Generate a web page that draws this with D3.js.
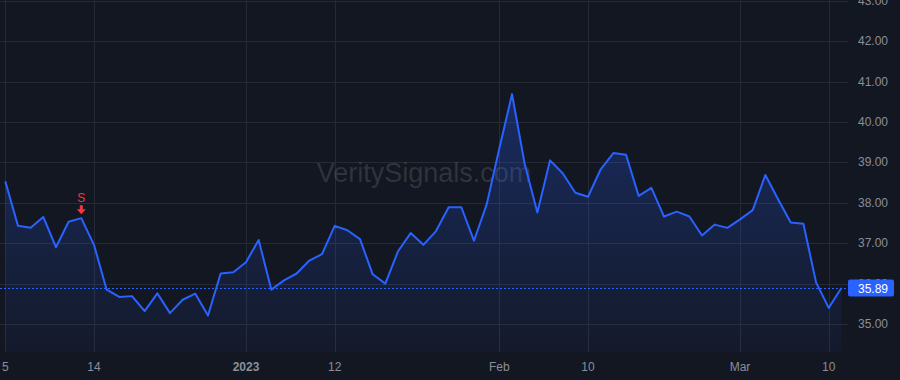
<!DOCTYPE html>
<html lang="en">
  <head>
    <meta charset="UTF-8" />
    <script src="https://d3js.org/d3.v7.min.js"></script>
    <title>VeritySignals chart</title>
    <style>
      body { margin: 0; background: #131722; }
      svg { display: block; }
    </style>
  </head>
  <body>
    <svg id="chart" width="900" height="380"></svg>
    <script>
      // trading days, Dec 5 2022 .. Mar 13 2023
      var dates = [
        '2022-12-05','2022-12-06','2022-12-07','2022-12-08','2022-12-09',
        '2022-12-12','2022-12-13','2022-12-14','2022-12-15','2022-12-16',
        '2022-12-19','2022-12-20','2022-12-21','2022-12-22','2022-12-23',
        '2022-12-27','2022-12-28','2022-12-29','2022-12-30',
        '2023-01-03','2023-01-04','2023-01-05','2023-01-06',
        '2023-01-09','2023-01-10','2023-01-11','2023-01-12','2023-01-13',
        '2023-01-17','2023-01-18','2023-01-19','2023-01-20',
        '2023-01-23','2023-01-24','2023-01-25','2023-01-26','2023-01-27',
        '2023-01-30','2023-01-31','2023-02-01','2023-02-02','2023-02-03',
        '2023-02-06','2023-02-07','2023-02-08','2023-02-09','2023-02-10',
        '2023-02-13','2023-02-14','2023-02-15','2023-02-16','2023-02-17',
        '2023-02-21','2023-02-22','2023-02-23','2023-02-24',
        '2023-02-27','2023-02-28','2023-03-01','2023-03-02','2023-03-03',
        '2023-03-06','2023-03-07','2023-03-08','2023-03-09','2023-03-10',
        '2023-03-13'
      ];

      // close prices
      var closes = [
        38.53, 37.43, 37.38, 37.65, 36.90, 37.53, 37.62, 36.96, 35.85, 35.67,
        35.69, 35.32, 35.76, 35.27, 35.60, 35.75, 35.21, 36.25, 36.28, 36.53,
        37.08, 35.85, 36.08, 36.25, 36.57, 36.73, 37.43, 37.32, 37.10, 36.23,
        36.00, 36.80, 37.25, 36.96, 37.30, 37.89, 37.89, 37.06, 37.96, 39.35,
        40.69, 38.96, 37.76, 39.05, 38.73, 38.25, 38.15, 38.83, 39.23, 39.19,
        38.17, 38.37, 37.66, 37.78, 37.66, 37.19, 37.46, 37.38, 37.59, 37.82,
        38.69, 38.09, 37.51, 37.48, 36.03, 35.40, 35.89
      ];

      // bottom axis ticks
      var tickDates = ['2022-12-05','2022-12-14','2023-01-03','2023-01-12','2023-02-01','2023-02-10','2023-03-01','2023-03-10'];
      var tickLabels = ['5', '14', '2023', '12', 'Feb', '10', 'Mar', '10'];
      var tickBold = ['2023'];

      // right axis ticks
      var priceTicks = [35, 36, 37, 38, 39, 40, 41, 42, 43];

      // signals
      var signals = [{ date: '2022-12-13', label: 'S' }];
      var lastPrice = 35.89;

      var svg = d3.select('#chart'),
        width = +svg.attr('width'),
        height = +svg.attr('height');

      var plotRight = 848,
        plotBottom = 352;

      var x = d3.scalePoint().domain(dates).range([5.3, 841.4]);
      var y = d3.scaleLinear().domain([35, 43]).range([324, 0.8]);

      var font = '"Liberation Sans", Arial, sans-serif';

      svg.append('rect').attr('width', width).attr('height', height).attr('fill', '#131722');

      // grid
      svg.append('g')
        .selectAll('line')
        .data(priceTicks)
        .enter()
        .append('line')
        .attr('x1', 0)
        .attr('x2', plotRight)
        .attr('y1', function(d) { return Math.round(y(d)) + 0.5; })
        .attr('y2', function(d) { return Math.round(y(d)) + 0.5; })
        .attr('stroke', '#262a35');

      svg.append('g')
        .selectAll('line')
        .data(tickDates)
        .enter()
        .append('line')
        .attr('x1', function(d) { return Math.round(x(d)) + 0.5; })
        .attr('x2', function(d) { return Math.round(x(d)) + 0.5; })
        .attr('y1', 0)
        .attr('y2', plotBottom)
        .attr('stroke', '#262a35');

      // watermark
      svg.append('text')
        .attr('x', 424)
        .attr('y', 182)
        .attr('text-anchor', 'middle')
        .attr('font-family', font)
        .attr('font-size', 27)
        .attr('fill', '#ffffff')
        .attr('fill-opacity', 0.13)
        .text('VeritySignals.com');

      // area gradient
      var grad = svg.append('defs').append('linearGradient')
        .attr('id', 'areaGrad')
        .attr('gradientUnits', 'userSpaceOnUse')
        .attr('x1', 0).attr('y1', y(40.69))
        .attr('x2', 0).attr('y2', plotBottom);
      grad.append('stop').attr('offset', '0%').attr('stop-color', '#2962ff').attr('stop-opacity', 0.28);
      grad.append('stop').attr('offset', '100%').attr('stop-color', '#2962ff').attr('stop-opacity', 0.04);

      var data = dates.map(function(d, i) { return { date: d, close: closes[i] }; });

      var area = d3.area()
        .x(function(d) { return x(d.date); })
        .y0(plotBottom)
        .y1(function(d) { return y(d.close); });

      var line = d3.line()
        .x(function(d) { return x(d.date); })
        .y(function(d) { return y(d.close); });

      svg.append('path').datum(data).attr('d', area).attr('fill', 'url(#areaGrad)');
      svg.append('path').datum(data)
        .attr('d', line)
        .attr('fill', 'none')
        .attr('stroke', '#2962ff')
        .attr('stroke-width', 2)
        .attr('stroke-linejoin', 'round');

      // last price line
      svg.append('line')
        .attr('x1', 0)
        .attr('x2', plotRight)
        .attr('y1', Math.round(y(lastPrice)) + 0.5)
        .attr('y2', Math.round(y(lastPrice)) + 0.5)
        .attr('stroke', '#2962ff')
        .attr('stroke-dasharray', '2,2');

      // signal markers
      var sig = svg.append('g')
        .selectAll('g')
        .data(signals)
        .enter()
        .append('g')
        .attr('transform', function(d) {
          var v = closes[dates.indexOf(d.date)];
          return 'translate(' + x(d.date) + ',' + y(v) + ')';
        });
      sig.append('text')
        .attr('y', -16)
        .attr('text-anchor', 'middle')
        .attr('font-family', font)
        .attr('font-size', 12)
        .attr('fill', '#f23645')
        .text(function(d) { return d.label; });
      sig.append('path')
        .attr('d', 'M-1.5,-13 L1.5,-13 L1.5,-9 L4.5,-9 L0,-4 L-4.5,-9 L-1.5,-9 Z')
        .attr('fill', '#f23645');

      // right axis labels
      svg.append('g')
        .selectAll('text')
        .data(priceTicks)
        .enter()
        .append('text')
        .attr('x', 858)
        .attr('y', function(d) { return y(d) + 4; })
        .attr('font-family', font)
        .attr('font-size', 12)
        .attr('fill', '#8a8e99')
        .text(function(d) { return d3.format('.2f')(d); });

      // last price badge
      var by = y(lastPrice);
      svg.append('rect')
        .attr('x', 848)
        .attr('y', by - 8.5)
        .attr('width', 46)
        .attr('height', 17)
        .attr('rx', 2)
        .attr('fill', '#2962ff');
      svg.append('text')
        .attr('x', 858)
        .attr('y', by + 4.5)
        .attr('font-family', font)
        .attr('font-size', 12)
        .attr('fill', '#ffffff')
        .text(d3.format('.2f')(lastPrice));

      // bottom axis labels
      svg.append('g')
        .selectAll('text')
        .data(tickDates)
        .enter()
        .append('text')
        .attr('x', function(d) { return x(d); })
        .attr('y', 371)
        .attr('text-anchor', 'middle')
        .attr('font-family', font)
        .attr('font-size', 12)
        .attr('font-weight', function(d, i) { return tickBold.indexOf(tickLabels[i]) >= 0 ? 'bold' : 'normal'; })
        .attr('fill', '#8a8e99')
        .text(function(d, i) { return tickLabels[i]; });
    </script>
  </body>
</html>
